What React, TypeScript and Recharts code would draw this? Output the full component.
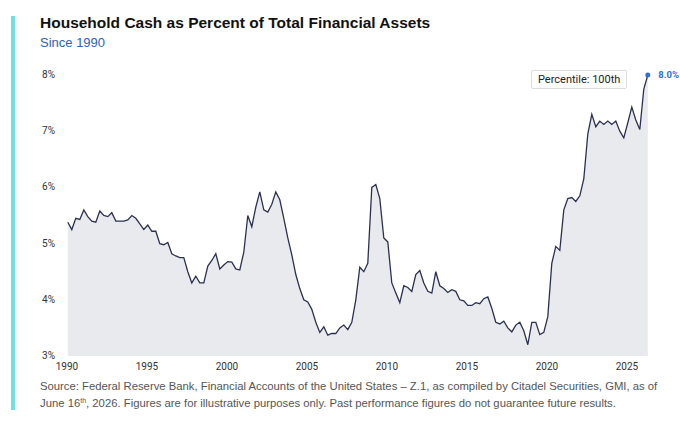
import { AreaChart, Area, XAxis, YAxis, ReferenceDot } from 'recharts';

const startYear = 1990;
const cashPct: number[] = [
  5.38, 5.25, 5.45, 5.43, 5.6, 5.48, 5.4, 5.38, 5.58, 5.5, 5.48, 5.55, 5.4, 5.4, 5.4, 5.42,
  5.5, 5.45, 5.35, 5.25, 5.33, 5.22, 5.22, 5.0, 4.98, 5.02, 4.82, 4.78, 4.75, 4.75, 4.5, 4.3,
  4.42, 4.3, 4.3, 4.6, 4.7, 4.82, 4.55, 4.62, 4.68, 4.67, 4.55, 4.53, 4.85, 5.5, 5.3, 5.65,
  5.92, 5.6, 5.56, 5.7, 5.92, 5.78, 5.45, 5.1, 4.8, 4.45, 4.2, 4.0, 3.96, 3.83, 3.6, 3.42,
  3.52, 3.37, 3.4, 3.4, 3.5, 3.55, 3.47, 3.6, 4.0, 4.58, 4.5, 4.65, 6.0, 6.05, 5.8, 5.1,
  5.03, 4.3, 4.12, 3.95, 4.25, 4.22, 4.15, 4.45, 4.52, 4.3, 4.15, 4.12, 4.5, 4.25, 4.2, 4.13,
  4.18, 4.15, 4.0, 3.98, 3.9, 3.9, 3.95, 3.93, 4.02, 4.05, 3.85, 3.6, 3.57, 3.62, 3.5, 3.43,
  3.55, 3.6, 3.45, 3.2, 3.6, 3.6, 3.38, 3.42, 3.7, 4.65, 4.95, 4.88, 5.6, 5.8, 5.82, 5.75,
  5.85, 6.15, 6.95, 7.3, 7.08, 7.18, 7.12, 7.18, 7.12, 7.18, 7.0, 6.88, 7.15, 7.43, 7.2, 7.03,
  7.75, 8.0,
];
const xTicks = [1990, 1995, 2000, 2005, 2010, 2015, 2020, 2025];
const yTicks = [3, 4, 5, 6, 7, 8];

const data = cashPct.map((v, i) => ({ t: startYear + i / 4 + 0.05, v }));
const last = data[data.length - 1];

const font = 'Roboto, "Liberation Sans", Arial, sans-serif';

const yTick = (p: any) => (
  <text x={42} y={p.y + 3} fontSize={10} fill="#333" fontFamily={font}>{p.payload.value}%</text>
);
const xTick = (p: any) => (
  <text x={p.x} y={p.y + 6} fontSize={10} fill="#333" textAnchor="middle" fontFamily={font}>{p.payload.value}</text>
);

export default function App() {
  return (
    <div style={{ position: 'fixed', left: 0, top: 0, width: 680, height: 430, background: '#fff', fontFamily: font }}>
      <div style={{ position: 'absolute', left: 11, top: 16, width: 4, height: 394, background: '#6fdfe6' }} />
      <div style={{ position: 'absolute', left: 40, top: 14, fontSize: 15.5, fontWeight: 700, color: '#111', fontFamily: '"Liberation Sans", Arial, sans-serif' }}>
        Household Cash as Percent of Total Financial Assets
      </div>
      <div style={{ position: 'absolute', left: 40, top: 35, fontSize: 13, color: '#2f62b5', fontFamily: '"Liberation Sans", Arial, sans-serif' }}>
        Since 1990
      </div>
      <AreaChart width={680} height={430} data={data} margin={{ top: 75, right: 29, bottom: 54, left: 42 }} style={{ position: 'absolute', left: 0, top: 0 }}>
        <XAxis dataKey="t" type="number" domain={[1990, 2026.5]} ticks={xTicks} axisLine={false} tickLine={false} tick={xTick} height={20} interval={0} />
        <YAxis type="number" domain={[3, 8]} ticks={yTicks} axisLine={false} tickLine={false} tick={yTick} width={25} interval={0} />
        <Area type="linear" dataKey="v" stroke="#2b3050" strokeWidth={1.3} fill="#e9eaee" fillOpacity={1} baseValue={3} isAnimationActive={false} dot={false} activeDot={false} />
        <ReferenceDot x={last.t} y={last.v} r={2.5} fill="#2f6fd6" stroke="none"
          label={{ value: '8.0%', position: 'right', fill: '#2f6fd6', fontSize: 9.5, fontWeight: 700, offset: 8 }} />
      </AreaChart>
      <div style={{ position: 'absolute', left: 531, top: 70, padding: '2px 6px', border: '1px solid #ddd', borderRadius: 2, background: '#fff', fontSize: 11, color: '#222' }}>
        Percentile: 100th
      </div>
      <div style={{ position: 'absolute', left: 40, top: 378, width: 625, fontSize: 11.3, lineHeight: '17px', color: '#555', fontFamily: '"Liberation Sans", Arial, sans-serif' }}>
        <div>Source: Federal Reserve Bank, Financial Accounts of the United States – Z.1, as compiled by Citadel Securities, GMI, as of</div>
        <div>June 16<span style={{ fontSize: 7, position: 'relative', top: -4 }}>th</span>, 2026. Figures are for illustrative purposes only. Past performance figures do not guarantee future results.</div>
      </div>
    </div>
  );
}
